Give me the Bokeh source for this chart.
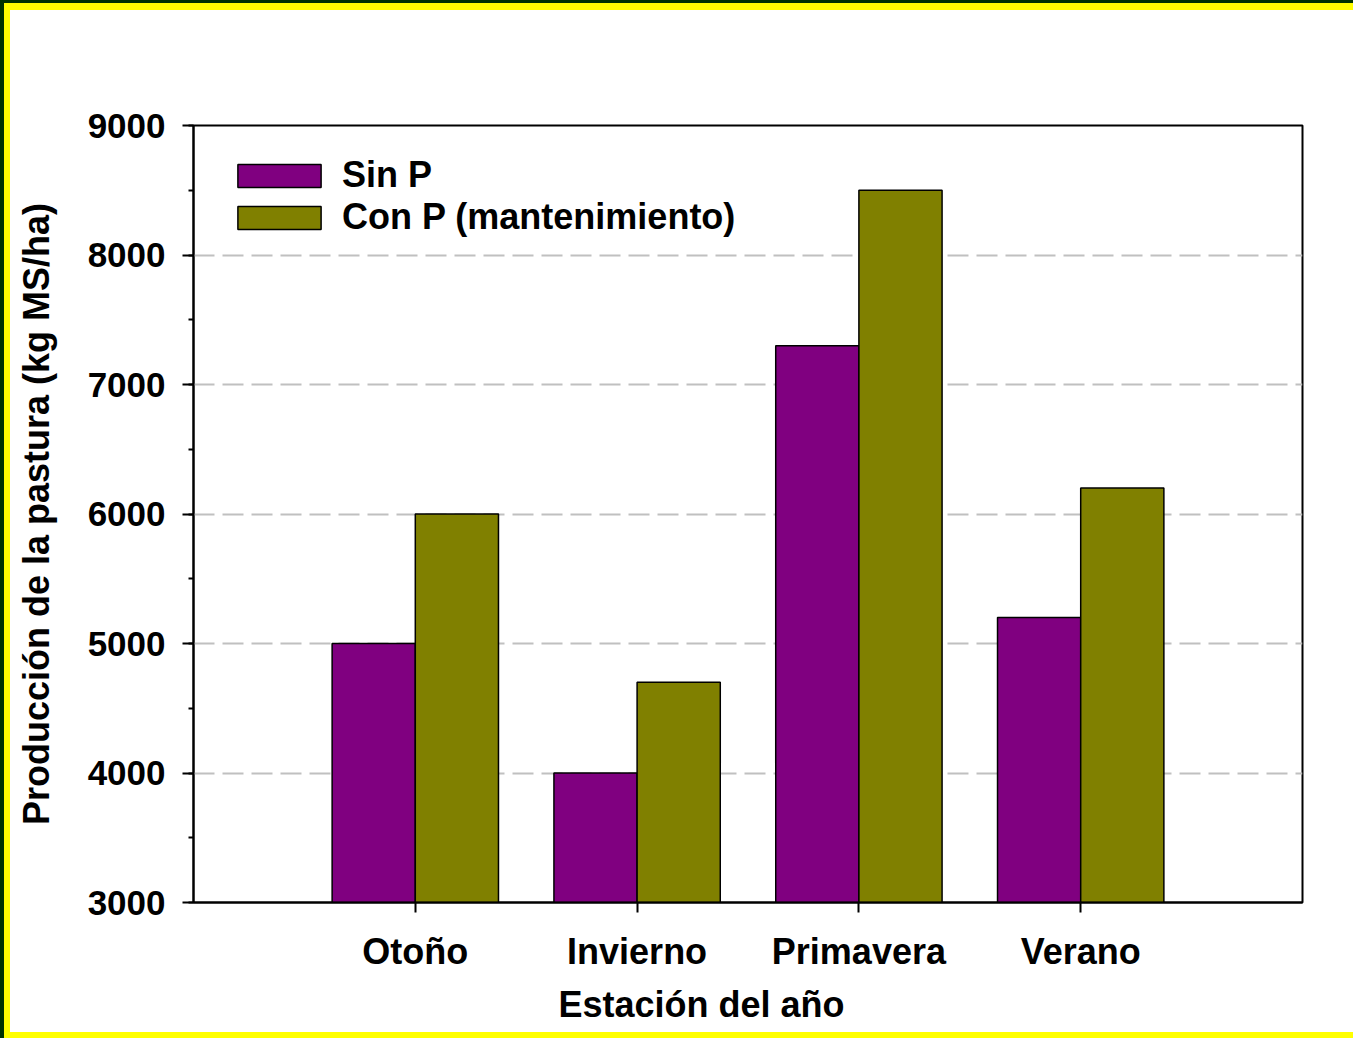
from bokeh.plotting import figure
from bokeh.layouts import row, column
from bokeh.models import Range1d, FixedTicker, SingleIntervalTicker, Title, Div
from bokeh.embed import file_html
from bokeh.resources import INLINE

# Seasonal pasture production, with and without phosphorus
seasons = ["Otoño", "Invierno", "Primavera", "Verano"]
sin_p = [5000, 4000, 7300, 5200]
con_p = [6000, 4700, 8500, 6200]
series_names = ["Sin P", "Con P (mantenimiento)"]
y_ticks = [3000, 4000, 5000, 6000, 7000, 8000, 9000]
x_title = "Estación del año"
y_title = "Producción de la pastura (kg MS/ha)"

FONT = "Liberation Sans"
YELLOW = "#ffff00"
DARK = "#003300"
bar_w = 0.375
pos = [i + 1 for i in range(len(seasons))]


def strip(w, h, **css):
    """A plain yellow strip of the page frame."""
    st = {"background-color": YELLOW, "box-sizing": "border-box"}
    st.update(css)
    return Div(text="", width=w, height=h, margin=0, styles=st)


p = figure(
    width=1343, height=1022,
    x_range=Range1d(0, len(seasons) + 1),
    y_range=Range1d(y_ticks[0], y_ticks[-1]),
    min_border_left=183, min_border_right=51,
    min_border_top=115, min_border_bottom=130,
    output_backend="svg", toolbar_location=None,
)
p.background_fill_color = "white"
p.border_fill_color = "white"
p.outline_line_color = "black"
p.outline_line_width = 2

p.vbar(x=[x - bar_w / 2 for x in pos], top=sin_p, bottom=y_ticks[0], width=bar_w,
       fill_color="#800080", line_color="black", line_width=1.5,
       legend_label=series_names[0])
p.vbar(x=[x + bar_w / 2 for x in pos], top=con_p, bottom=y_ticks[0], width=bar_w,
       fill_color="#808000", line_color="black", line_width=1.5,
       legend_label=series_names[1])

# axes
p.xaxis.ticker = FixedTicker(ticks=pos)
p.xaxis.major_label_overrides = {x: s for x, s in zip(pos, seasons)}
p.xaxis.minor_tick_line_color = None
p.yaxis.ticker = SingleIntervalTicker(interval=1000, num_minor_ticks=2)

for ax in (p.xaxis, p.yaxis):
    ax.axis_line_width = 2
    ax.axis_line_color = "black"
    ax.major_tick_line_width = 2
    ax.major_tick_line_color = "black"
    ax.major_tick_in = 0
    ax.minor_tick_in = 0
    ax.minor_tick_out = 5
    ax.minor_tick_line_width = 2
    ax.major_label_text_font = FONT
    ax.major_label_text_font_style = "bold"
    ax.major_label_text_color = "black"
    ax.axis_label_text_font = FONT
    ax.axis_label_text_font_style = "bold"
    ax.axis_label_text_color = "black"
    ax.axis_label_text_font_size = "36px"

p.xaxis.major_tick_out = 10
p.yaxis.major_tick_out = 11
p.xaxis.major_label_text_font_size = "36px"
p.yaxis.major_label_text_font_size = "35px"
p.xaxis.major_label_standoff = 18
p.yaxis.major_label_standoff = 17
p.yaxis.axis_label = y_title
p.yaxis.axis_label_standoff = 28

# x title, placed a little left of the frame centre
p.add_layout(Title(text=x_title, align="left", offset=365, standoff=15,
                   text_font=FONT, text_font_style="bold",
                   text_font_size="36px", text_color="black"), "below")

# grid
p.xgrid.visible = False
p.ygrid.ticker = FixedTicker(ticks=y_ticks[1:-1])
p.ygrid.grid_line_color = "#c0c0c0"
p.ygrid.grid_line_width = 2
p.ygrid.grid_line_dash = "21 8"

# legend
lg = p.legend[0]
lg.location = (34, 664)
lg.border_line_color = None
lg.background_fill_alpha = 0
lg.margin = 0
lg.padding = 0
lg.glyph_width = 104
lg.glyph_height = 29
lg.label_standoff = 11
lg.spacing = 0
lg.label_text_font = FONT
lg.label_text_font_style = "bold"
lg.label_text_font_size = "36px"
lg.label_text_color = "black"
lg.label_height = 41

page = row(
    strip(10, 1038, **{"border-left": f"4px solid {DARK}", "border-top": f"3px solid {DARK}"}),
    column(strip(1343, 10, **{"border-top": f"3px solid {DARK}"}), p, strip(1343, 6)),
)

open("out.html", "w").write(file_html(page, INLINE))
